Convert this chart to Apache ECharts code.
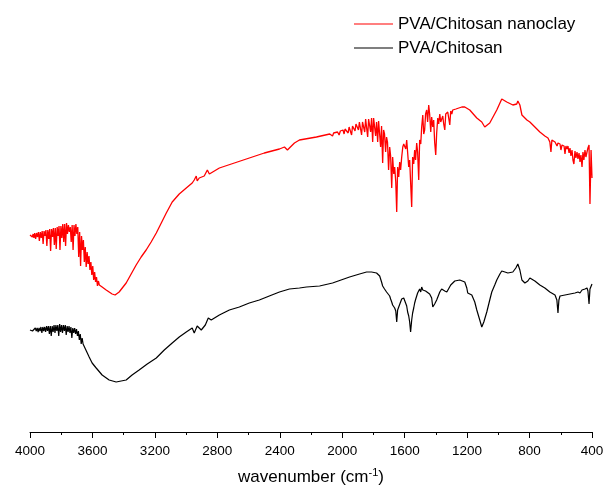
<!DOCTYPE html>
<html>
<head>
<meta charset="utf-8">
<script src="https://cdn.jsdelivr.net/npm/echarts@6/dist/echarts.min.js"></script>
<style>
html,body{margin:0;padding:0;background:#fff;}
#chart{width:612px;height:495px;}
</style>
</head>
<body>
<div id="chart"></div>
<script>
// x-axis ticks (wavenumber, cm-1)
const xTicks = [4000, 3600, 3200, 2800, 2400, 2000, 1600, 1200, 800, 400];
const seriesNames = ['PVA/Chitosan nanoclay', 'PVA/Chitosan'];

// PVA/Chitosan nanoclay: [wavenumber, relative transmittance (arb.)]
const nanoclayData = [
[4000,197],[3995,196],[3990,198],[3985,195],[3980,198],[3975,194],[3970,199],[3964,193],[3958,199],[3952,195],
[3946,200],[3940,191],[3934,200],[3928,194],[3922,201],[3916,188],[3910,201],[3904,196],[3898,202],[3892,186],
[3886,202],[3880,193],[3874,203],[3868,181],[3862,203],[3856,195],[3850,204],[3844,187],[3838,204],[3832,183],
[3826,205],[3820,196],[3814,206],[3808,182],[3802,206],[3796,194],[3790,208],[3784,190],[3778,208],[3772,186],
[3766,209],[3760,198],[3754,207],[3748,200],[3742,205],[3736,190],[3730,207],[3724,182],[3718,207],[3712,196],
[3706,208],[3700,198],[3694,205],[3688,175],[3682,200],[3676,166],[3670,196],[3664,182],[3658,192],[3652,170],
[3646,185],[3640,165],[3634,180],[3628,168],[3622,176],[3616,162],[3610,170],[3604,157],[3598,166],[3592,152],
[3586,160],[3580,150],[3574,155],[3568,146],[3562,151],[3556,147],[3550,149],[3538,145],[3512,142],[3493,140],
[3474,138],[3455,137],[3429,140],[3384,149],[3352,158],[3320,167],[3288,175],[3256,182],[3224,190],[3191,199],
[3159,209],[3127,219],[3089,230],[3044,238],[2999,244],[2961,249],[2948,252],[2935,256],[2929,251],[2916,254],
[2884,256],[2864,262],[2851,258],[2819,261],[2787,264],[2691,269],[2595,274],[2499,279],[2402,283],[2370,285],
[2351,282],[2332,285],[2306,289],[2274,292],[2165,295],[2080,298],[2062,296],[2055,299],[2030,300],[2020,297],
[2012,301],[1995,302],[1988,298],[1982,303],[1970,304],[1962,299],[1956,305],[1948,306],[1940,297],[1934,306],
[1926,307],[1918,301],[1912,308],[1902,309],[1896,302],[1890,310],[1882,311],[1876,297],[1870,310],[1862,312],
[1856,300],[1850,313],[1844,313],[1837,295],[1831,313],[1824,314],[1818,300],[1812,314],[1805,290],[1799,314],
[1792,312],[1786,296],[1780,310],[1773,290],[1767,311],[1760,309],[1754,285],[1748,306],[1741,269],[1735,302],
[1729,298],[1722,280],[1716,295],[1710,290],[1703,262],[1696,285],[1690,276],[1683,244],[1677,275],[1670,258],
[1664,265],[1657,250],[1651,220],[1645,265],[1638,255],[1632,270],[1626,262],[1619,275],[1612,285],[1606,288],
[1600,290],[1593,283],[1587,292],[1581,290],[1574,265],[1568,272],[1562,250],[1555,225],[1549,275],[1542,268],
[1536,282],[1530,272],[1523,289],[1517,280],[1510,252],[1504,292],[1497,288],[1491,305],[1484,317],[1478,298],
[1472,302],[1466,318],[1459,322],[1453,310],[1446,327],[1440,318],[1433,300],[1427,315],[1420,305],[1414,312],
[1408,290],[1401,277],[1395,299],[1388,314],[1382,308],[1375,318],[1369,310],[1363,312],[1356,316],[1350,308],
[1343,302],[1337,318],[1330,316],[1324,320],[1318,314],[1311,307],[1305,321],[1298,318],[1292,322],[1272,323],
[1253,324],[1234,325],[1215,325],[1183,322],[1138,314],[1106,310],[1087,305],[1055,309],[1010,322],[978,333],
[946,330],[907,327],[882,328],[875,331],[862,327],[849,317],[817,312],[798,310],[766,305],[734,300],
[702,296],[682,294],[670,290],[663,280],[657,292],[650,291],[637,290],[624,286],[618,289],[605,288],
[599,282],[592,287],[586,285],[579,286],[573,278],[567,286],[560,283],[554,286],[547,279],[541,284],
[535,276],[528,282],[522,272],[516,268],[509,281],[503,274],[496,280],[490,273],[483,279],[477,270],
[471,277],[464,265],[458,280],[452,272],[445,282],[439,275],[432,280],[426,284],[419,287],[413,228],
[406,282],[400,254]
];

// PVA/Chitosan: [wavenumber, relative transmittance (arb.)]
const chitosanData = [
[4000,102],[3990,103],[3984,101],[3978,103],[3972,100],[3966,104],[3960,101],[3954,104],[3948,100],[3942,104],
[3936,101],[3930,105],[3924,99],[3918,105],[3912,101],[3906,105],[3900,100],[3894,106],[3888,101],[3882,106],
[3876,98],[3870,106],[3864,96],[3858,106],[3852,100],[3846,107],[3840,99],[3834,107],[3828,101],[3822,107],
[3816,96],[3810,108],[3804,100],[3798,107],[3792,99],[3786,107],[3780,101],[3774,107],[3768,97],[3762,106],
[3756,100],[3750,106],[3744,99],[3738,105],[3732,94],[3726,104],[3720,99],[3714,104],[3708,98],[3702,103],
[3696,96],[3690,101],[3684,92],[3678,98],[3672,88],[3666,94],[3660,88],[3654,90],[3648,84],[3642,84],
[3636,80],[3630,78],[3621,75],[3602,69],[3576,64],[3538,57],[3493,52],[3448,50],[3416,51],[3384,52],
[3346,57],[3301,62],[3249,68],[3191,74],[3140,82],[3089,89],[3044,95],[2999,100],[2961,104],[2948,99],
[2929,106],[2903,102],[2877,107],[2858,114],[2839,112],[2787,117],[2723,122],[2659,125],[2595,129],[2531,132],
[2467,136],[2402,140],[2338,143],[2274,144],[2229,145],[2145,146],[2062,149],[1953,155],[1889,158],[1844,160],
[1812,160],[1780,159],[1760,156],[1748,150],[1741,146],[1735,148],[1729,143],[1722,145],[1716,140],[1709,138],
[1696,136],[1690,133],[1683,130],[1677,127],[1670,126],[1664,124],[1657,121],[1651,110],[1645,122],[1638,125],
[1632,126],[1619,133],[1606,134],[1600,132],[1587,126],[1581,120],[1574,116],[1568,110],[1562,100],[1555,112],
[1549,119],[1542,124],[1536,129],[1529,133],[1517,139],[1510,137],[1504,143],[1497,140],[1491,145],[1484,142],
[1478,143],[1466,141],[1459,142],[1440,138],[1427,134],[1420,125],[1408,128],[1395,132],[1375,140],[1363,143],
[1343,141],[1330,140],[1305,147],[1279,151],[1247,152],[1215,150],[1202,144],[1196,139],[1170,137],[1151,130],
[1138,122],[1119,112],[1106,105],[1093,110],[1074,120],[1055,132],[1042,140],[1023,147],[1010,152],[990,158],
[978,161],[958,160],[939,159],[907,160],[888,164],[875,168],[862,162],[849,152],[830,149],[811,151],
[798,154],[766,151],[734,147],[702,144],[670,140],[637,137],[625,132],[618,119],[612,132],[605,136],
[573,137],[541,138],[509,139],[490,140],[477,139],[464,142],[458,140],[445,143],[438,141],[432,144],
[426,141],[419,128],[413,143],[406,145],[400,148]
];

const chart = echarts.init(document.getElementById('chart'), null, {renderer: 'canvas'});
const font = '"Liberation Sans", Arial, sans-serif';
chart.setOption({
  animation: false,
  backgroundColor: '#fff',
  textStyle: {fontFamily: font},
  grid: {left: 30, right: 20, top: 32, bottom: 63},
  legend: {
    data: seriesNames, left: 349, top: 10, orient: 'vertical',
    icon: 'rect', itemWidth: 39, itemHeight: 1.2, itemGap: 6,
    textStyle: {fontSize: 17, color: '#000', fontFamily: font, lineHeight: 18}
  },
  xAxis: {
    type: 'value', inverse: true, min: 400, max: 4000, interval: 400,
    axisLine: {show: true, lineStyle: {color: '#000', width: 1}},
    axisTick: {show: true, inside: false, length: 6, lineStyle: {color: '#000'}},
    minorTick: {show: true, splitNumber: 2, length: 3, lineStyle: {color: '#000'}},
    splitLine: {show: false},
    axisLabel: {fontSize: 13.5, color: '#000', margin: 12, fontFamily: font,
      formatter: v => String(v)},
    name: '{a|wavenumber (cm}{b|-1}{a|)}',
    nameLocation: 'middle', nameGap: 35,
    nameTextStyle: {
      rich: {
        a: {fontSize: 17, color: '#000', fontFamily: font, lineHeight: 20},
        b: {fontSize: 11, color: '#000', fontFamily: font, lineHeight: 20, padding: [0, 0, 9, 0]}
      }
    }
  },
  yAxis: {type: 'value', min: 0, max: 400, show: false},
  series: [
    {name: seriesNames[0], type: 'line', data: nanoclayData, showSymbol: false, symbol: 'none',
     lineStyle: {color: '#ff0000', width: 1.3}, itemStyle: {color: '#ff0000'}},
    {name: seriesNames[1], type: 'line', data: chitosanData, showSymbol: false, symbol: 'none',
     lineStyle: {color: '#000000', width: 1.2}, itemStyle: {color: '#000000'}}
  ]
});
</script>
</body>
</html>
